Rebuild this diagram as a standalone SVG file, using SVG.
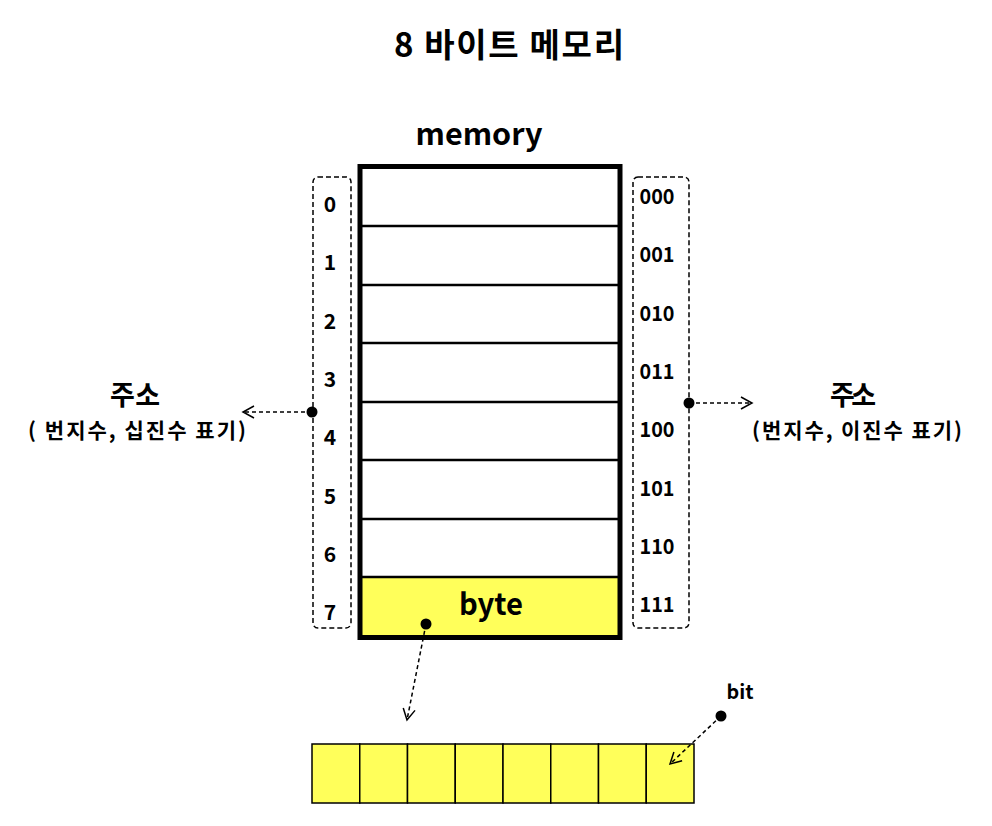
<svg xmlns="http://www.w3.org/2000/svg" width="992" height="826" viewBox="0 0 992 826">
<style>
text{font-family:"Noto Sans CJK KR","Liberation Sans",sans-serif;font-weight:bold;fill:#000;text-anchor:middle}
.num{font-size:21px}
.dash{fill:none;stroke:#000;stroke-width:1.5;stroke-dasharray:5,3}
.conn{fill:none;stroke:#000;stroke-width:1.5;stroke-dasharray:4,3}
.row{stroke:#000;stroke-width:2.5}
.cell{fill:#ffff5a;stroke:#000;stroke-width:1.5}
.lbl{font-size:27px}
.sub{font-size:21px}
</style>
<defs>
<marker id="arr" markerWidth="14" markerHeight="14" refX="12" refY="7" orient="auto" markerUnits="userSpaceOnUse">
<path d="M1,1 L12,7 L1,13" fill="none" stroke="#000" stroke-width="1.5"/>
</marker>
</defs>
<rect width="992" height="826" fill="#fff"/>
<g id="title"><text x="509" y="57" style="font-size:33px" textLength="230" lengthAdjust="spacing">8 바이트 메모리</text></g>
<g id="memory">
<text x="479" y="145" style="font-size:30px" textLength="127" lengthAdjust="spacingAndGlyphs">memory</text>
<rect x="360" y="577" width="260" height="60" fill="#ffff5a"/>
<line class="row" x1="360" y1="226" x2="620" y2="226"/>
<line class="row" x1="360" y1="285" x2="620" y2="285"/>
<line class="row" x1="360" y1="343" x2="620" y2="343"/>
<line class="row" x1="360" y1="402" x2="620" y2="402"/>
<line class="row" x1="360" y1="460" x2="620" y2="460"/>
<line class="row" x1="360" y1="519" x2="620" y2="519"/>
<line class="row" x1="360" y1="577" x2="620" y2="577"/>
<rect x="360" y="166.5" width="260" height="471" fill="none" stroke="#000" stroke-width="5"/>
<text x="491" y="615" style="font-size:30px" textLength="64" lengthAdjust="spacingAndGlyphs">byte</text>
</g>
<g id="dec-addr">
<rect class="dash" x="313" y="177" width="38" height="451" rx="5"/>
<text class="num" x="330" y="212">0</text>
<text class="num" x="330" y="270">1</text>
<text class="num" x="330" y="329">2</text>
<text class="num" x="330" y="387">3</text>
<text class="num" x="330" y="445">4</text>
<text class="num" x="330" y="504">5</text>
<text class="num" x="330" y="562">6</text>
<text class="num" x="330" y="620">7</text>
</g>
<g id="bin-addr">
<rect class="dash" x="633" y="177" width="56" height="451" rx="5"/>
<text class="num" x="657" y="204" textLength="35" lengthAdjust="spacingAndGlyphs">000</text>
<text class="num" x="657" y="262" textLength="35" lengthAdjust="spacingAndGlyphs">001</text>
<text class="num" x="657" y="321" textLength="35" lengthAdjust="spacingAndGlyphs">010</text>
<text class="num" x="657" y="379" textLength="35" lengthAdjust="spacingAndGlyphs">011</text>
<text class="num" x="657" y="437" textLength="35" lengthAdjust="spacingAndGlyphs">100</text>
<text class="num" x="657" y="496" textLength="35" lengthAdjust="spacingAndGlyphs">101</text>
<text class="num" x="657" y="554" textLength="35" lengthAdjust="spacingAndGlyphs">110</text>
<text class="num" x="657" y="612" textLength="35" lengthAdjust="spacingAndGlyphs">111</text>
</g>
<g id="label-left">
<text class="lbl" x="135" y="405" textLength="50" lengthAdjust="spacing">주소</text>
<text class="sub" x="137" y="438" textLength="218" lengthAdjust="spacing">( 번지수, 십진수 표기)</text>
</g>
<g id="label-right">
<text class="lbl" x="853" y="405" textLength="46" lengthAdjust="spacing">주소</text>
<text class="sub" x="857" y="438" textLength="210" lengthAdjust="spacing">(번지수, 이진수 표기)</text>
</g>
<g id="bits">
<rect class="cell" x="312" y="744" width="47.75" height="59"/>
<rect class="cell" x="359.75" y="744" width="47.75" height="59"/>
<rect class="cell" x="407.5" y="744" width="47.75" height="59"/>
<rect class="cell" x="455.25" y="744" width="47.75" height="59"/>
<rect class="cell" x="503" y="744" width="47.75" height="59"/>
<rect class="cell" x="550.75" y="744" width="47.75" height="59"/>
<rect class="cell" x="598.5" y="744" width="47.75" height="59"/>
<rect class="cell" x="646.25" y="744" width="47.75" height="59"/>
<text x="740" y="699" style="font-size:20px" textLength="27" lengthAdjust="spacingAndGlyphs">bit</text>
</g>
<g id="connectors">
<line class="conn" x1="312" y1="412" x2="243" y2="412" marker-end="url(#arr)"/>
<circle cx="312" cy="412" r="5.5"/>
<line class="conn" x1="689" y1="403" x2="752" y2="403" marker-end="url(#arr)"/>
<circle cx="689" cy="403" r="5.5"/>
<line class="conn" x1="426" y1="624" x2="407" y2="720" marker-end="url(#arr)"/>
<circle cx="426" cy="624" r="5.5"/>
<line class="conn" x1="721" y1="716" x2="670" y2="764" marker-end="url(#arr)"/>
<circle cx="721" cy="716" r="5.5"/>
</g>
</svg>
